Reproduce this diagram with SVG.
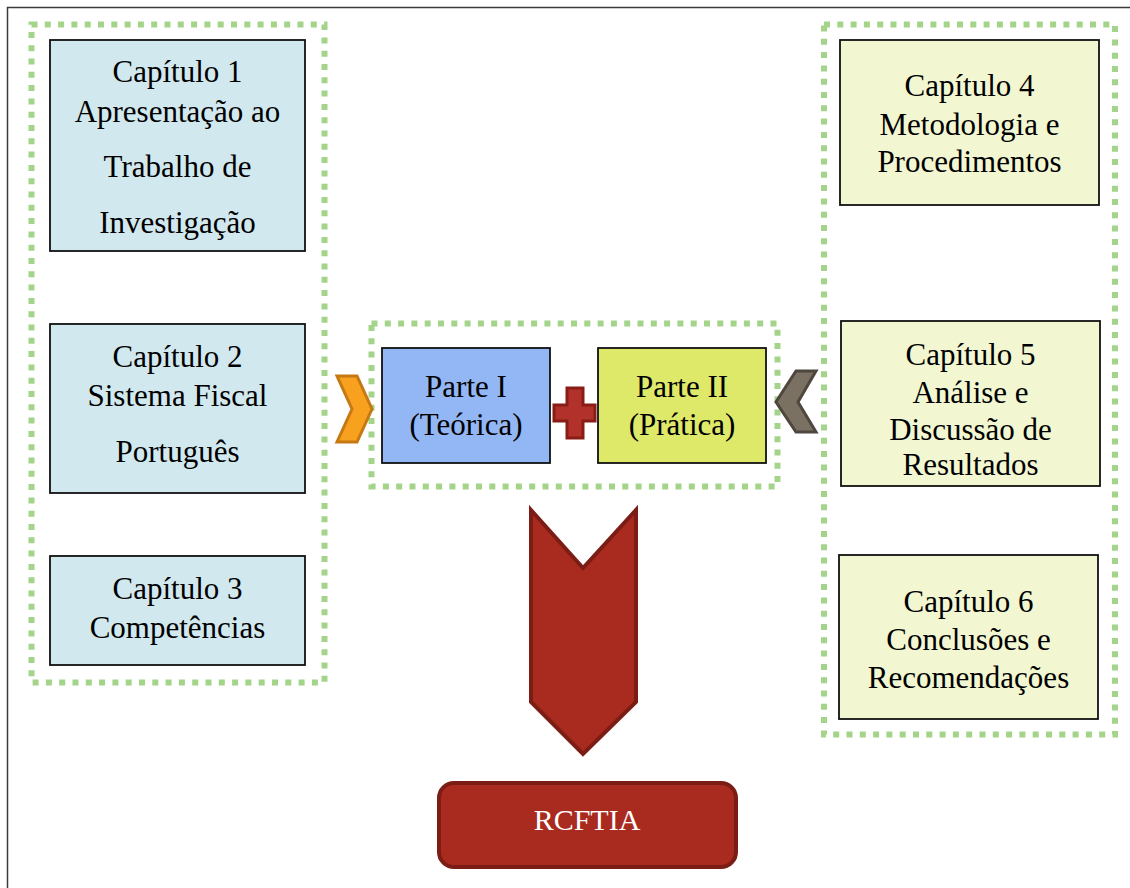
<svg xmlns="http://www.w3.org/2000/svg" width="1130" height="888" viewBox="0 0 1130 888">
<style>
.dot{fill:none;stroke:#a3d48a;stroke-width:6;stroke-dasharray:6 7.3}
.box{stroke:#111;stroke-width:1.8}
.blue{fill:#d2e8ef}
.yel{fill:#f2f7d2}
.t{font-family:"Liberation Serif","Times New Roman",serif;font-size:31px;fill:#000;text-anchor:middle}
.w{fill:#fff;font-size:30px}
</style>
<rect x="7.5" y="7.5" width="1140" height="900" fill="#fff" stroke="#3a3a3a" stroke-width="1.5"/>
<g id="groups">
<rect class="dot" x="31.5" y="24.5" width="293" height="658"/>
<rect class="dot" x="824" y="24.5" width="291" height="710"/>
<rect class="dot" x="371.5" y="323.5" width="406" height="163"/>
</g>
<g id="cap1">
<rect class="box blue" x="50" y="40" width="255" height="211"/>
<text class="t" x="177.5" y="82">Capítulo 1</text>
<text class="t" x="177.5" y="122">Apresentação ao</text>
<text class="t" x="177.5" y="177">Trabalho de</text>
<text class="t" x="177.5" y="233">Investigação</text>
</g>
<g id="cap2">
<rect class="box blue" x="50" y="324" width="255" height="169"/>
<text class="t" x="177.5" y="367">Capítulo 2</text>
<text class="t" x="177.5" y="406">Sistema Fiscal</text>
<text class="t" x="177.5" y="462">Português</text>
</g>
<g id="cap3">
<rect class="box blue" x="50" y="556" width="255" height="109"/>
<text class="t" x="177.5" y="599">Capítulo 3</text>
<text class="t" x="177.5" y="638">Competências</text>
</g>
<g id="cap4">
<rect class="box yel" x="840" y="40" width="259" height="165"/>
<text class="t" x="969.5" y="96">Capítulo 4</text>
<text class="t" x="969.5" y="135">Metodologia e</text>
<text class="t" x="969.5" y="172">Procedimentos</text>
</g>
<g id="cap5">
<rect class="box yel" x="841" y="321" width="259" height="165"/>
<text class="t" x="970.5" y="365">Capítulo 5</text>
<text class="t" x="970.5" y="403">Análise e</text>
<text class="t" x="970.5" y="440">Discussão de</text>
<text class="t" x="970.5" y="475">Resultados</text>
</g>
<g id="cap6">
<rect class="box yel" x="839" y="555" width="259" height="164"/>
<text class="t" x="968.5" y="612">Capítulo 6</text>
<text class="t" x="968.5" y="650">Conclusões e</text>
<text class="t" x="968.5" y="688">Recomendações</text>
</g>
<g id="parte1">
<rect class="box" fill="#93b7f5" x="382" y="348" width="168" height="115"/>
<text class="t" x="466" y="397">Parte I</text>
<text class="t" x="466" y="435">(Teórica)</text>
</g>
<g id="parte2">
<rect class="box" fill="#dee96a" x="598" y="348" width="168" height="115"/>
<text class="t" x="682" y="397">Parte II</text>
<text class="t" x="682" y="435">(Prática)</text>
</g>
<g id="connectors">
<polygon points="337,376 357,376 372,409 357,442 337,442 352,409" fill="#f8a11f" stroke="#c47913" stroke-width="3" stroke-linejoin="miter"/>
<polygon points="816,371 796,371 776,402 796,432 816,432 798,402" fill="#7b7163" stroke="#4e473e" stroke-width="3"/>
<polygon points="567,388 583,388 583,405 595,405 595,421 583,421 583,438 567,438 567,421 554,421 554,405 567,405" fill="#b2312a" stroke="#8a1c16" stroke-width="3"/>
<polygon points="531,510 583,568 636,510 636,702 583,754 531,702" fill="#a92a1f" stroke="#7b1d15" stroke-width="4"/>
</g>
<g id="rcftia">
<rect x="439" y="783" width="297" height="84" rx="15" fill="#a92a1f" stroke="#7b1d15" stroke-width="4"/>
<text class="t w" x="587" y="830">RCFTIA</text>
</g>
</svg>
